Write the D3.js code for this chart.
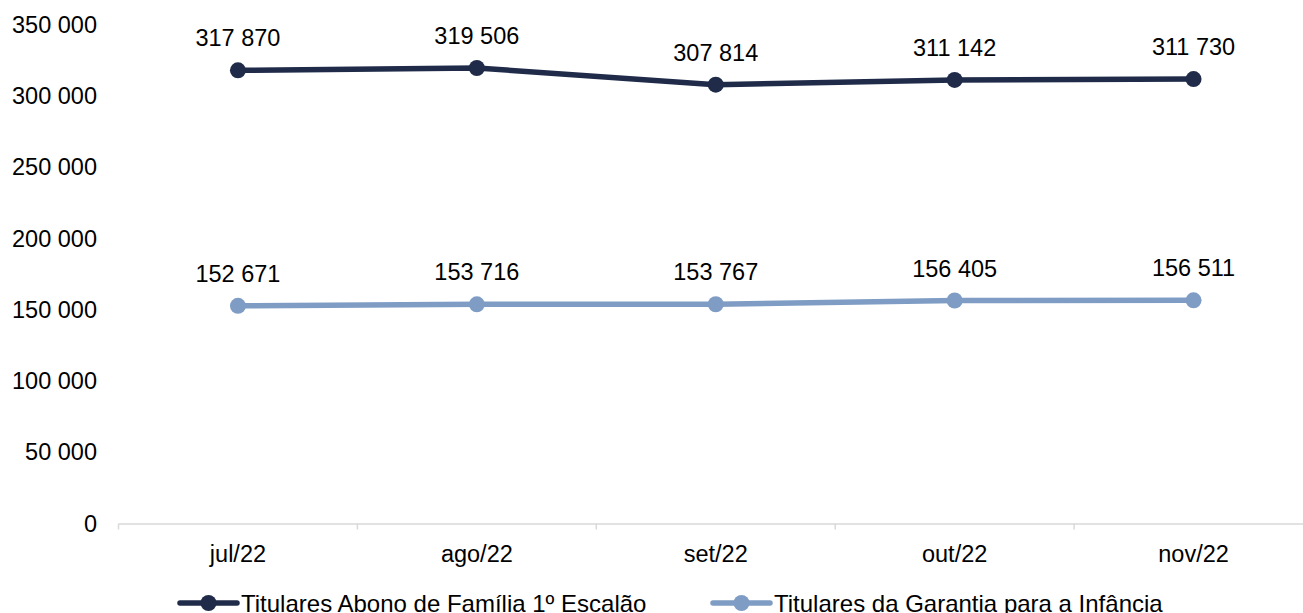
<!DOCTYPE html>
<html>
<head>
<meta charset="utf-8">
<script src="https://cdn.jsdelivr.net/npm/d3@7"></script>
<style>
	body { margin: 0; background: #fff; overflow: hidden; }
	svg text { font-family: "Liberation Sans", Arial, sans-serif; fill: #000; }
</style>
</head>
<body>
<div id="graphicContainer"></div>
<script>
var months = ["jul/22", "ago/22", "set/22", "out/22", "nov/22"]
var abono = [317870, 319506, 307814, 311142, 311730]
var garantia = [152671, 153716, 153767, 156405, 156511]
var seriesNames = ["Titulares Abono de Família 1º Escalão", "Titulares da Garantia para a Infância"]
var yTicks = [0, 50000, 100000, 150000, 200000, 250000, 300000, 350000]

function init() {
	var width = 1303
	var height = 613
	var fontSize = 23.5
	var colors = ["#1F2B48", "#7F9DC4"]

	var svg = d3.select("#graphicContainer").append("svg")
		.attr("width", width)
		.attr("height", height)

	var x = d3.scaleBand()
		.domain(months)
		.range([118.5, 1074 + 239])

	var y = d3.scaleLinear()
		.domain([0, 350000])
		.range([523.5, 24.5])

	var fmt = function(v) {
		return d3.format(",")(v).replace(/,/g, " ")
	}

	// y labels, no axis line
	svg.append("g")
		.selectAll("text")
		.data(yTicks)
		.enter()
		.append("text")
		.attr("x", 97)
		.attr("y", d => y(d))
		.attr("dy", "0.35em")
		.attr("text-anchor", "end")
		.style("font-size", fontSize + "px")
		.text(fmt)

	// x axis
	var xAxis = svg.append("g")
		.attr("transform", "translate(0," + y(0) + ")")
		.call(d3.axisBottom(x).tickSize(0).tickPadding(22))

	xAxis.select(".domain").attr("stroke", "#d9d9d9").attr("stroke-width", 1.5)
	xAxis.selectAll("text")
		.style("font-size", fontSize + "px")
		.style("font-family", "Liberation Sans, Arial, sans-serif")
		.attr("fill", "#000")

	xAxis.selectAll(".sep")
		.data(months)
		.enter()
		.append("line")
		.attr("x1", d => x(d))
		.attr("x2", d => x(d))
		.attr("y1", 0)
		.attr("y2", 6)
		.attr("stroke", "#d9d9d9")
		.attr("stroke-width", 1.5)

	var line = d3.line()
		.x((d, i) => x(months[i]) + x.bandwidth() / 2)
		.y(d => y(d))

	;[abono, garantia].forEach(function(series, s) {
		var g = svg.append("g")
		g.append("path")
			.datum(series)
			.attr("d", line)
			.attr("fill", "none")
			.attr("stroke", colors[s])
			.attr("stroke-width", 5.5)
			.attr("stroke-linejoin", "round")

		g.selectAll("circle")
			.data(series)
			.enter()
			.append("circle")
			.attr("cx", (d, i) => x(months[i]) + x.bandwidth() / 2)
			.attr("cy", d => y(d))
			.attr("r", 8)
			.attr("fill", colors[s])

		g.selectAll("text")
			.data(series)
			.enter()
			.append("text")
			.attr("x", (d, i) => x(months[i]) + x.bandwidth() / 2)
			.attr("y", d => y(d) - 24)
			.attr("text-anchor", "middle")
			.style("font-size", fontSize + "px")
			.text(fmt)
	})

	// legend (cut at the bottom edge, as in the original)
	var legendX = [180, 713]
	var legend = svg.append("g")
		.selectAll("g")
		.data(seriesNames)
		.enter()
		.append("g")
		.attr("transform", (d, i) => "translate(" + legendX[i] + ",603)")

	legend.append("line")
		.attr("x1", 0)
		.attr("x2", 57)
		.attr("stroke", (d, i) => colors[i])
		.attr("stroke-width", 5.5)
		.attr("stroke-linecap", "round")

	legend.append("circle")
		.attr("cx", 28.5)
		.attr("r", 8)
		.attr("fill", (d, i) => colors[i])

	legend.append("text")
		.attr("x", 61)
		.attr("y", 9)
		.style("font-size", "24px")
		.text(d => d)
}

init()
</script>
</body>
</html>
